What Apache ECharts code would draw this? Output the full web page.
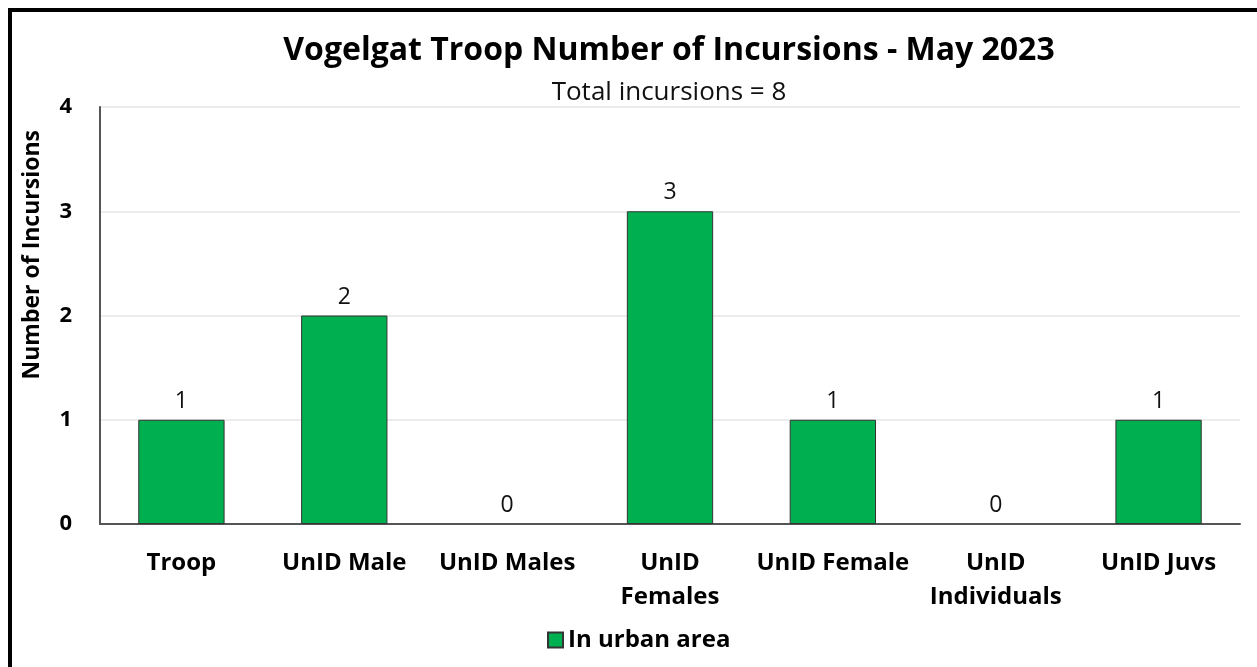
<!DOCTYPE html>
<html>
<head>
<meta charset="utf-8">
<script src="https://cdn.jsdelivr.net/npm/echarts@6/dist/echarts.min.js"></script>
<style>
  html, body { margin: 0; padding: 0; background: #fff; }
  #frame { position: absolute; left: 8px; top: 8px; width: 1249px; height: 659px;
           border-left: 4px solid #000; border-top: 4px solid #000; box-sizing: border-box; }
  #chart { position: absolute; left: 0; top: 0; width: 1257px; height: 667px; }
</style>
</head>
<body>
<div id="chart"></div>
<div id="frame"></div>
<script>
// data
const categories = ["Troop", "UnID Male", "UnID Males", "UnID\nFemales", "UnID Female", "UnID\nIndividuals", "UnID Juvs"];
const urbanCounts = [1, 2, 0, 3, 1, 0, 1];
const seriesName = "In urban area";
const titleText = "Vogelgat Troop Number of Incursions - May 2023";
const subtitleText = "Total incursions = 8";
const yAxisTitle = "Number of Incursions";

const font = "'Open Sans', sans-serif";
const green = "#00b050";
const myChart = echarts.init(document.getElementById("chart"));

myChart.setOption({
    animation: false,
    backgroundColor: "#fff",
    textStyle: { fontFamily: font },
    title: {
        text: titleText,
        subtext: subtitleText,
        left: 664,
        textAlign: "center",
        top: 30,
        itemGap: 13,
        textStyle: { fontFamily: font, fontSize: 32, fontWeight: "bold", color: "#000" },
        subtextStyle: { fontFamily: font, fontSize: 26, color: "#111" },
    },
    legend: {
        bottom: 10,
        left: 542,
        icon: "rect",
        itemWidth: 15,
        itemHeight: 15,
        itemGap: 8,
        textStyle: { fontFamily: font, fontSize: 24, fontWeight: "bold", color: "#000" },
        data: [seriesName],
    },
    grid: { left: 100, right: 17, top: 107, bottom: 143 },
    xAxis: {
        type: "category",
        data: categories,
        axisTick: { show: false },
        axisLine: { lineStyle: { color: "#555", width: 2 } },
        axisLabel: {
            interval: 0,
            margin: 22,
            fontFamily: font,
            fontSize: 24,
            fontWeight: "bold",
            color: "#000",
            lineHeight: 34,
        },
    },
    yAxis: {
        type: "value",
        min: 0,
        max: 4,
        interval: 1,
        axisLine: { show: true, lineStyle: { color: "#555", width: 2 } },
        axisTick: { show: false },
        splitLine: { lineStyle: { color: "#e6e6e6", width: 1.5 } },
        axisLabel: {
            margin: 28,
            fontFamily: font,
            fontSize: 22,
            fontWeight: "bold",
            color: "#000",
        },
    },
    graphic: [
        {
            type: "text",
            left: 21,
            top: 130,
            rotation: Math.PI / 2,
            style: {
                text: yAxisTitle,
                fontFamily: font,
                fontSize: 23,
                fontWeight: "bold",
                fill: "#000",
            },
        },
    ],
    series: [
        {
            name: seriesName,
            type: "bar",
            data: urbanCounts.map((v) => ({
                value: v,
                itemStyle: { borderWidth: v === 0 ? 0 : 1 },
            })),
            barWidth: "53%",
            itemStyle: { color: green, borderColor: "#333", borderWidth: 1 },
            label: {
                show: true,
                position: "top",
                distance: 7,
                fontFamily: font,
                fontSize: 23,
                color: "#111",
            },
        },
    ],
});
</script>
</body>
</html>
